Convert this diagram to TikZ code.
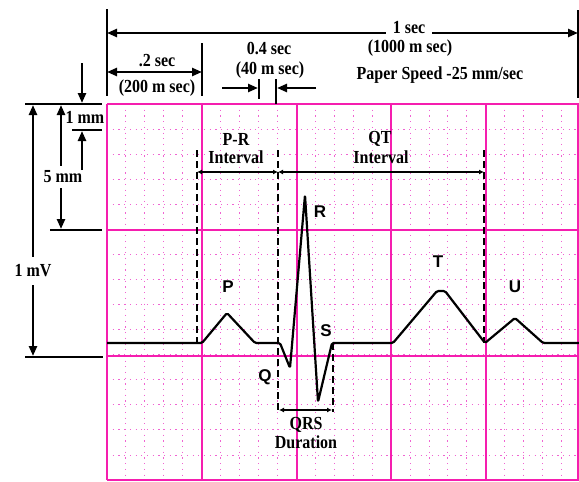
\documentclass[tikz,border=0pt]{standalone}
\usepackage{graphicx}
\usepackage{fontspec}
\setmainfont{Liberation Serif}
\newfontfamily\wavefont{Liberation Sans}
\usetikzlibrary{arrows.meta}
\definecolor{gridmajor}{RGB}{245,30,175}
\definecolor{gridminor}{RGB}{240,100,210}
\newcommand\stx[1]{\scalebox{1}[1.15]{#1}}
\tikzset{
  majorline/.style={draw=gridmajor,line width=1.6pt},
  minorline/.style={draw=gridminor,line width=0.9pt,dash pattern=on 1.2pt off 4.5pt},
  dimline/.style={line width=2.4pt},
  bigarrow/.style={dimline,-{Triangle[length=10pt,width=8pt]}},
  bigdarrow/.style={dimline,{Triangle[length=10pt,width=8pt]}-{Triangle[length=10pt,width=8pt]}},
  smalldarrow/.style={line width=1.5pt,{Latex[length=5pt,width=5pt]}-{Latex[length=5pt,width=5pt]}},
  dashline/.style={line width=1.6pt,dash pattern=on 7pt off 4pt},
  tickline/.style={line width=2.2pt},
  lbl/.style={font=\bfseries\fontsize{16}{17}\selectfont,inner sep=1pt,align=center},
  wavelbl/.style={font=\wavefont\bfseries\fontsize{17}{18}\selectfont,inner sep=0pt},
  gaplbl/.style={lbl,fill=white,inner sep=2pt},
  wave/.style={line width=2.2pt,line join=round,rounded corners=1.5pt}
}
\begin{document}
\begin{tikzpicture}[x=1pt,y=-1pt]
\useasboundingbox (0,0) rectangle (579,482);
\fill[white] (0,0) rectangle (579,482);
% ---------- grid ----------
\foreach \i in {1,...,24} {
  \pgfmathsetmacro{\xx}{107+18.94*\i}
  \draw[minorline] (\xx,104) -- (\xx,480);
}
\foreach \j in {1,...,14} {
  \pgfmathsetmacro{\yy}{104+25.07*\j}
  \draw[minorline] (107,\yy) -- (579,\yy);
}
\foreach \xx in {107,202,297,391,486,578} \draw[majorline] (\xx,104) -- (\xx,480);
\foreach \yy in {104,230,356,480} \draw[majorline] (107,\yy) -- (579,\yy);
% ---------- top dimensions ----------
\coordinate (tl1) at (107,9);   \coordinate (tl2) at (107,96);
\coordinate (tr1) at (578,10);  \coordinate (tr2) at (578,98);
\coordinate (t2a) at (202,43);  \coordinate (t2b) at (202,96);
\draw[tickline] (tl1) -- (tl2);
\draw[tickline] (tr1) -- (tr2);
\draw[tickline] (t2a) -- (t2b);
\coordinate (oneL) at (107,33); \coordinate (oneR) at (578,33);
\draw[bigdarrow] (oneL) -- (oneR);
\node[gaplbl,inner xsep=7pt] (onesec) at (409,28) {\stx{1 sec}};
\node[lbl] (onems) at (410,48) {\stx{(1000 m sec)}};
\node[lbl] (speed) at (440,75) {\stx{Paper Speed -25 mm/sec}};
\coordinate (twoL) at (107,72); \coordinate (twoR) at (202,72);
\draw[bigdarrow] (twoL) -- (twoR);
\node[lbl] (twosec) at (157,61) {\stx{.2 sec}};
\node[lbl] (twoms) at (157,88) {\stx{(200 m sec)}};
\node[lbl] (foursec) at (269,49) {\stx{0.4 sec}};
\node[lbl] (fourms) at (270,70) {\stx{(40 m sec)}};
\coordinate (f1a) at (259,79); \coordinate (f1b) at (259,99);
\coordinate (f2a) at (276,79); \coordinate (f2b) at (276,104);
\draw[tickline] (f1a) -- (f1b);
\draw[tickline] (f2a) -- (f2b);
\coordinate (fa0) at (222,88); \coordinate (fa1) at (258,88);
\coordinate (fb0) at (316,88); \coordinate (fb1) at (277,88);
\draw[bigarrow] (fa0) -- (fa1);
\draw[bigarrow] (fb0) -- (fb1);
% ---------- left dimensions ----------
\coordinate (h1a) at (25,104);  \coordinate (h1b) at (102,104);
\coordinate (h2a) at (72,130);  \coordinate (h2b) at (102,130);
\coordinate (h3a) at (50,230);  \coordinate (h3b) at (102,230);
\coordinate (h4a) at (25,357);  \coordinate (h4b) at (103,357);
\draw[dimline] (h1a) -- (h1b);
\draw[dimline] (h2a) -- (h2b);
\draw[dimline] (h3a) -- (h3b);
\draw[dimline] (h4a) -- (h4b);
\coordinate (mvT) at (33,105); \coordinate (mvB) at (33,356);
\draw[bigdarrow] (mvT) -- (mvB);
\node[gaplbl,inner ysep=8pt] (mv) at (33,271) {\stx{1 mV}};
\coordinate (fmT) at (61,105); \coordinate (fmB) at (61,229);
\draw[bigdarrow] (fmT) -- (fmB);
\node[gaplbl,inner ysep=5pt] (fm) at (63,177) {\stx{5 mm}};
\coordinate (omA) at (82,63);  \coordinate (omB) at (82,103);
\coordinate (omC) at (82,170); \coordinate (omD) at (82,131);
\draw[bigarrow] (omA) -- (omB);
\draw[bigarrow] (omC) -- (omD);
\node[lbl] (om) at (85,117) {\stx{1 mm}};
% ---------- intervals ----------
\coordinate (d1a) at (197,150); \coordinate (d1b) at (197,343);
\coordinate (d2a) at (278,150); \coordinate (d2b) at (278,412);
\coordinate (d3a) at (484,150); \coordinate (d3b) at (484,343);
\coordinate (d4a) at (333,343); \coordinate (d4b) at (333,412);
\draw[dashline] (d1a) -- (d1b);
\draw[dashline] (d2a) -- (d2b);
\draw[dashline] (d3a) -- (d3b);
\draw[dashline] (d4a) -- (d4b);
\coordinate (prL) at (197,172); \coordinate (prR) at (278,172);
\coordinate (qtR) at (484,172);
\draw[smalldarrow] (prL) -- (prR);
\draw[smalldarrow] (prR) -- (qtR);
\node[lbl] (pr) at (236,139) {\stx{P-R}};
\node[lbl] (pri) at (236,157) {\stx{Interval}};
\node[lbl] (qt) at (380,139) {\stx{QT}};
\node[lbl] (qti) at (381,157) {\stx{Interval}};
\coordinate (qrsL) at (279,410); \coordinate (qrsR) at (332,410);
\draw[smalldarrow] (qrsL) -- (qrsR);
\node[lbl] (qrs) at (306,425) {\stx{QRS}};
\node[lbl] (dur) at (306,442) {\stx{Duration}};
% ---------- ECG waveform ----------
\draw[wave] (107,343) -- (202,343) -- (227,313) -- (255,343) -- (280,343)
  -- (290,368) -- (305,195) -- (318,402) -- (332,343) -- (393,343)
  -- (437,291) -- (445,291) -- (485,343) -- (515,318) -- (543,343) -- (579,343);
\node[wavelbl] (P) at (228,287) {P};
\node[wavelbl] (R) at (320,212) {R};
\node[wavelbl] (S) at (326,331) {S};
\node[wavelbl] (Q) at (265,377) {Q};
\node[wavelbl] (T) at (438,262) {T};
\node[wavelbl] (U) at (515,287) {U};
\end{tikzpicture}
\end{document}
